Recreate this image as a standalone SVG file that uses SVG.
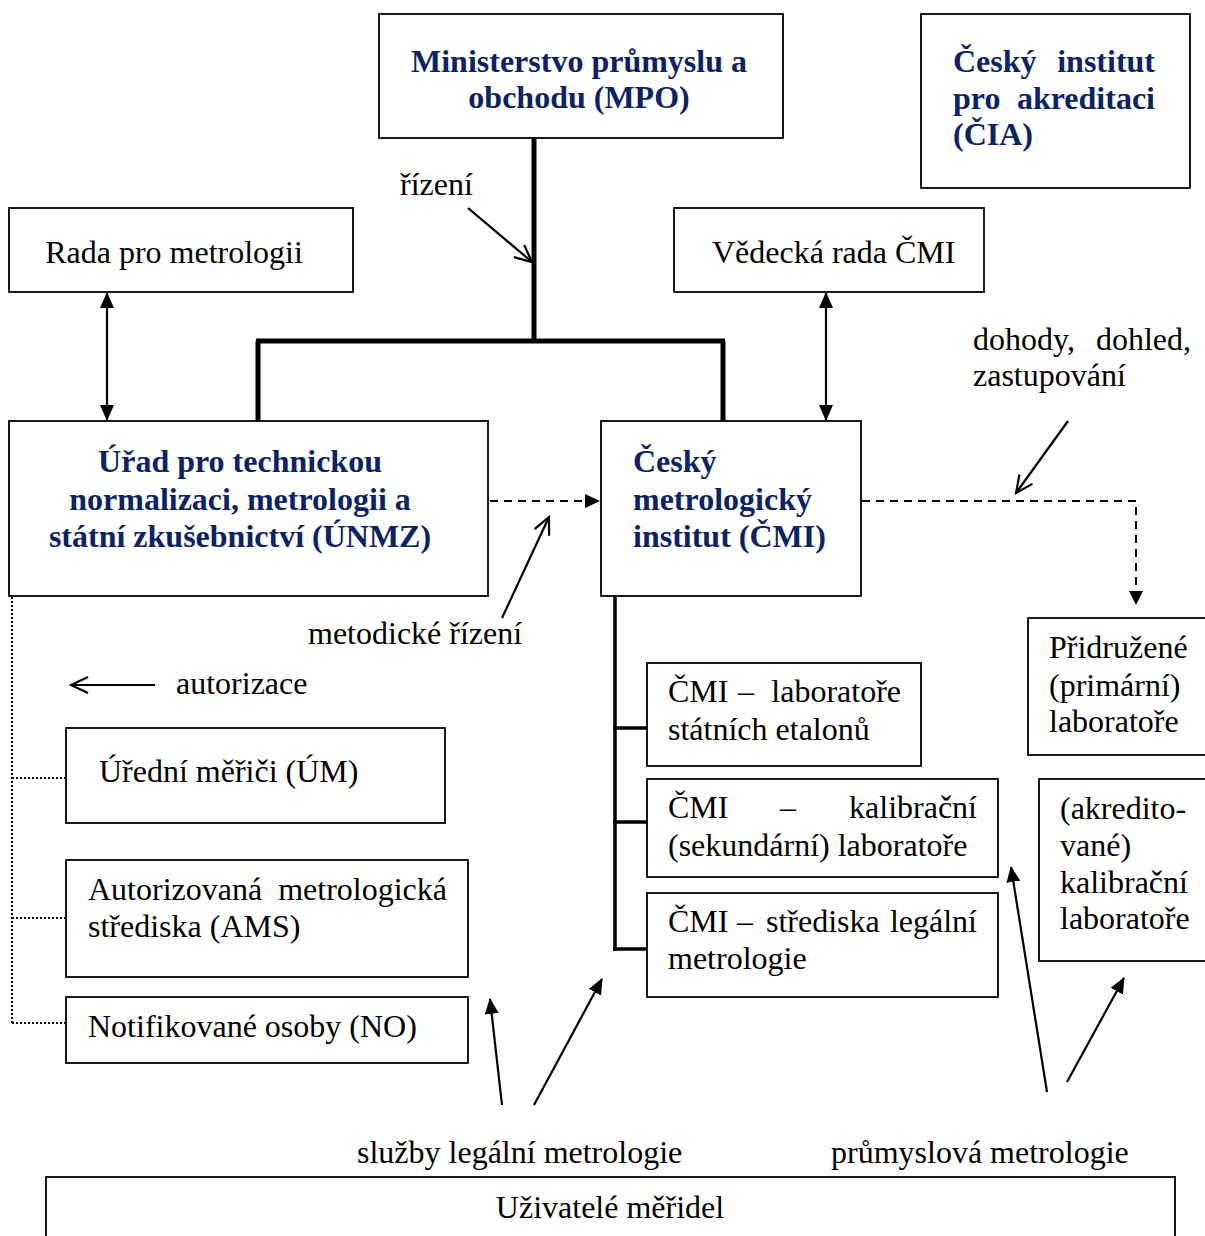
<svg xmlns="http://www.w3.org/2000/svg" width="1205" height="1236" viewBox="0 0 1205 1236">
<style>
.box{fill:#fff;stroke:#000;stroke-width:1.8}
.t{font-family:"Liberation Serif","Times New Roman",serif;font-size:32px;fill:#000}
.b{font-family:"Liberation Serif","Times New Roman",serif;font-size:32px;font-weight:bold;fill:#0b2364}
.c{text-anchor:middle}
.e{text-anchor:end}
.ln{fill:none;stroke:#000;stroke-width:2.2}
.thick{fill:none;stroke:#000;stroke-width:5}
.mid{fill:none;stroke:#000;stroke-width:3.5}
.dash{fill:none;stroke:#000;stroke-width:2}
.dash{stroke-dasharray:8,6}
.dot{fill:none;stroke:#000;stroke-width:2;stroke-dasharray:2,2}
</style>
<defs>
<marker id="fa" markerUnits="userSpaceOnUse" markerWidth="16" markerHeight="14" refX="15" refY="7" orient="auto-start-reverse" viewBox="0 0 16 14">
<path d="M0,0 L16,7 L0,14 z" fill="#000"/>
</marker>
<marker id="oa" markerUnits="userSpaceOnUse" markerWidth="20" markerHeight="18" refX="18" refY="9" orient="auto" viewBox="0 0 20 18">
<path d="M1,1 L18,9 L1,17" fill="none" stroke="#000" stroke-width="2.2"/>
</marker>
</defs>

<g id="connectors">
<path class="thick" d="M534,138 V341 M256,341 H725 M258,341 V421 M723,341 V421"/>
<path class="ln" d="M468,208 L532,262" marker-end="url(#oa)"/>
<path class="ln" d="M107,293 V420" marker-start="url(#fa)" marker-end="url(#fa)"/>
<path class="ln" d="M826,293 V420" marker-start="url(#fa)" marker-end="url(#fa)"/>
<path class="dash" d="M490,501 H586"/>
<path d="M585,494 L600,501 L585,508 z" fill="#000"/>
<path class="ln" d="M502,618 L549,517" marker-end="url(#oa)"/>
<path class="dash" d="M862,501 H1136 V592"/>
<path d="M1129,591 L1136,605 L1143,591 z" fill="#000"/>
<path class="ln" d="M1068,421 L1016,493" marker-end="url(#oa)"/>
<path class="mid" d="M615,597 V951 M613,728 H647 M613,822 H647 M613,949 H647"/>
<path class="dot" d="M12,597 V1023 M12,778 H66 M12,918 H66 M12,1023 H66"/>
<path class="ln" d="M155,685 L71,685" marker-end="url(#oa)"/>
<path class="ln" d="M502,1105 L490,999" marker-end="url(#fa)"/>
<path class="ln" d="M534,1105 L602,979" marker-end="url(#fa)"/>
<path class="ln" d="M1047,1092 L1011,867" marker-end="url(#fa)"/>
<path class="ln" d="M1067,1082 L1124,978" marker-end="url(#fa)"/>
</g>

<g id="mpo">
<rect class="box" x="379" y="14" width="404" height="124"/>
<text class="b c" x="579" y="72">Ministerstvo průmyslu a</text>
<text class="b c" x="579" y="108">obchodu (MPO)</text>
</g>

<g id="cia">
<rect class="box" x="921" y="14" width="269" height="174"/>
<text class="b" x="953" y="72">Český</text>
<text class="b e" x="1155" y="72">institut</text>
<text class="b" x="953" y="109">pro</text>
<text class="b e" x="1155" y="109">akreditaci</text>
<text class="b" x="953" y="145">(ČIA)</text>
</g>

<g id="rada">
<rect class="box" x="9" y="208" width="344" height="84"/>
<text class="t c" x="174" y="263">Rada pro metrologii</text>
</g>

<g id="vedecka">
<rect class="box" x="674" y="208" width="310" height="84"/>
<text class="t" x="712" y="263">Vědecká rada ČMI</text>
</g>

<g id="unmz">
<rect class="box" x="9" y="421" width="479" height="175"/>
<text class="b c" x="240" y="472">Úřad pro technickou</text>
<text class="b c" x="240" y="510">normalizaci, metrologii a</text>
<text class="b c" x="240" y="547">státní zkušebnictví (ÚNMZ)</text>
</g>

<g id="cmi">
<rect class="box" x="601" y="421" width="260" height="175"/>
<text class="b" x="633" y="472">Český</text>
<text class="b" x="633" y="510">metrologický</text>
<text class="b" x="633" y="547">institut (ČMI)</text>
</g>

<g id="cmi-etalony">
<rect class="box" x="647" y="663" width="274" height="103"/>
<text class="t" x="668" y="702">ČMI</text>
<text class="t" x="738" y="702">–</text>
<text class="t e" x="901" y="702">laboratoře</text>
<text class="t" x="668" y="740">státních etalonů</text>
</g>

<g id="cmi-kalibracni">
<rect class="box" x="647" y="779" width="351" height="98"/>
<text class="t" x="668" y="818">ČMI</text>
<text class="t" x="780" y="818">–</text>
<text class="t e" x="977" y="818">kalibrační</text>
<text class="t" x="668" y="856">(sekundární) laboratoře</text>
</g>

<g id="cmi-strediska">
<rect class="box" x="647" y="893" width="351" height="104"/>
<text class="t" x="668" y="932">ČMI</text>
<text class="t" x="737" y="932">–</text>
<text class="t" x="766" y="932">střediska</text>
<text class="t e" x="977" y="932">legální</text>
<text class="t" x="668" y="969">metrologie</text>
</g>

<g id="pridruzene">
<rect class="box" x="1028" y="618" width="190" height="137"/>
<text class="t" x="1049" y="658">Přidružené</text>
<text class="t" x="1049" y="696">(primární)</text>
<text class="t" x="1049" y="732">laboratoře</text>
</g>

<g id="akreditovane">
<rect class="box" x="1039" y="779" width="180" height="182"/>
<text class="t" x="1060" y="819">(akredito-</text>
<text class="t" x="1060" y="856">vané)</text>
<text class="t" x="1060" y="893">kalibrační</text>
<text class="t" x="1060" y="929">laboratoře</text>
</g>

<g id="um">
<rect class="box" x="66" y="728" width="379" height="95"/>
<text class="t" x="99" y="782">Úřední měřiči (ÚM)</text>
</g>

<g id="ams">
<rect class="box" x="66" y="860" width="402" height="117"/>
<text class="t" x="88" y="900">Autorizovaná</text>
<text class="t e" x="447" y="900">metrologická</text>
<text class="t" x="88" y="937">střediska (AMS)</text>
</g>

<g id="no">
<rect class="box" x="66" y="997" width="402" height="66"/>
<text class="t" x="88" y="1037">Notifikované osoby (NO)</text>
</g>

<g id="uzivatele">
<rect class="box" x="46" y="1177" width="1129" height="70"/>
<text class="t c" x="610" y="1218">Uživatelé měřidel</text>
</g>

<g id="labels">
<text class="t" x="400" y="195">řízení</text>
<text class="t" x="973" y="350">dohody,</text>
<text class="t e" x="1191" y="350">dohled,</text>
<text class="t" x="973" y="386">zastupování</text>
<text class="t" x="308" y="644">metodické řízení</text>
<text class="t" x="176" y="694">autorizace</text>
<text class="t" x="357" y="1163">služby legální metrologie</text>
<text class="t" x="831" y="1163">průmyslová metrologie</text>
</g>
</svg>
